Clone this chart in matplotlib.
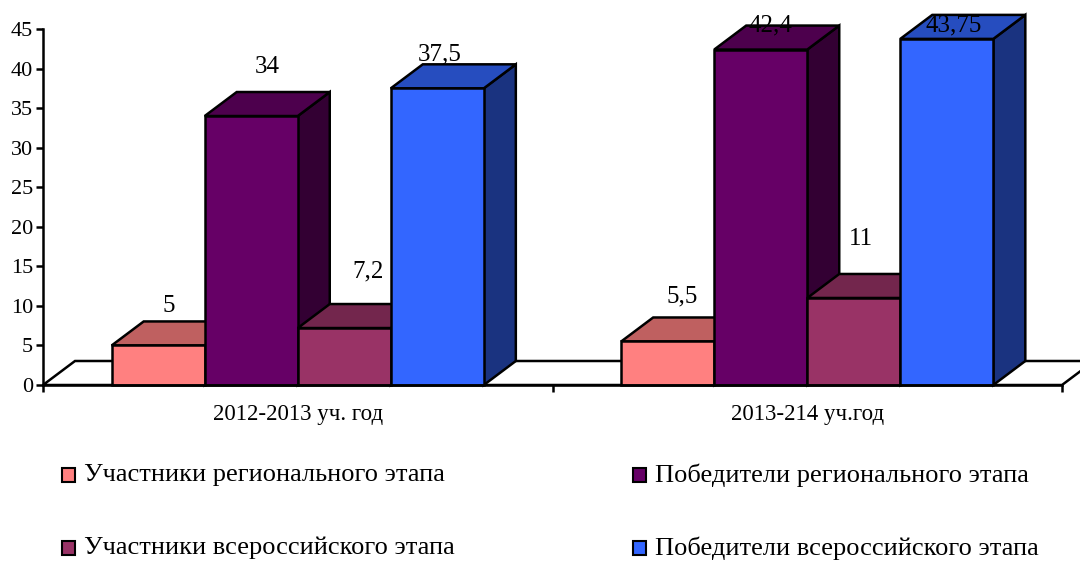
import numpy as np
import matplotlib
matplotlib.use("Agg")
import matplotlib.pyplot as plt
from matplotlib.patches import Polygon, Rectangle
from matplotlib.colors import to_rgb

# Данные
categories = ["2012-2013 уч. год", "2013-214 уч.год"]
series = [
    "Участники регионального этапа",
    "Победители регионального этапа",
    "Участники всероссийского этапа",
    "Победители всероссийского этапа",
]
values = [
    [5, 5.5],
    [34, 42.4],
    [7.2, 11],
    [37.5, 43.75],
]
value_labels = [
    ["5", "5,5"],
    ["34", "42,4"],
    ["7,2", "11"],
    ["37,5", "43,75"],
]
colors = ["#FF8080", "#660066", "#993366", "#3366FF"]

# Смещения подписей значений (как в исходной диаграмме)
label_dx = [[0.021, 0.028], [0.031, 0.020], [0.047, 0.014], [0.005, 0.014]]
label_dy = [[5.0, 5.75], [6.2, 3.0], [7.1, 7.5], [4.3, 1.65]]

plt.rcParams["font.family"] = ["Liberation Serif", "DejaVu Serif"]

W, H = 1080, 561
fig = plt.figure(figsize=(W / 100, H / 100), dpi=100)
ax = fig.add_axes([43 / W, 176 / H, 1019 / W, 356 / H])
ax.set_xlim(0, 2)
ax.set_ylim(0, 45)
ax.patch.set_visible(False)

# 3D-смещение (глубина)
ddx = 32 / 509.5
ddy = 24 / 7.91
bw = 0.1826
lw = 1.8


def shade(c, k):
    r, g, b = to_rgb(c)
    return (r * k, g * k, b * k)


# Пол
floor = Polygon([(0, 0), (2, 0), (2 + ddx, ddy), (ddx, ddy)], closed=True,
                facecolor="white", edgecolor="black", lw=lw, clip_on=False, zorder=1)
ax.add_patch(floor)

n = len(series)
for ci in range(len(categories)):
    for si in range(n):
        v = values[si][ci]
        x0 = ci + 0.5 + (si - n / 2) * bw
        x1 = x0 + bw
        c = colors[si]
        z = 2 + si
        side = Polygon([(x1, 0), (x1 + ddx, ddy), (x1 + ddx, v + ddy), (x1, v)],
                       facecolor=shade(c, 0.5), edgecolor="black", lw=lw,
                       joinstyle="miter", clip_on=False, zorder=z)
        top = Polygon([(x0, v), (x1, v), (x1 + ddx, v + ddy), (x0 + ddx, v + ddy)],
                      facecolor=shade(c, 0.75), edgecolor="black", lw=lw,
                      joinstyle="miter", clip_on=False, zorder=z)
        front = Rectangle((x0, 0), bw, v, facecolor=c, edgecolor="black", lw=lw,
                          joinstyle="miter", clip_on=False, zorder=z)
        ax.add_patch(side)
        ax.add_patch(top)
        ax.add_patch(front)
        ax.text(x0 + bw / 2 + label_dx[si][ci], v + label_dy[si][ci],
                value_labels[si][ci], ha="center", va="center",
                fontsize=18, zorder=20)

# Оси
for s in ["top", "right"]:
    ax.spines[s].set_visible(False)
ax.spines["left"].set_linewidth(lw)
ax.spines["bottom"].set_linewidth(lw)
ax.spines["left"].set_zorder(30)
ax.spines["bottom"].set_zorder(30)

ax.set_yticks(np.arange(0, 46, 5))
ax.tick_params(axis="y", length=5, width=lw, labelsize=16, pad=2)
ax.set_xticks([0, 1, 2], labels=["", "", ""])
ax.set_xticks([0.5, 1.5], labels=categories, minor=True)
ax.tick_params(axis="x", which="major", length=5, width=lw)
ax.tick_params(axis="x", which="minor", length=0, labelsize=16.5, pad=14)

# Легенда
leg_cols = [62, 633]
leg_rows = [475, 548]
order = [0, 2, 1, 3]
for k, si in enumerate(order):
    col = k // 2
    row = k % 2
    xp, yp = leg_cols[col], leg_rows[row]
    fig.add_artist(Rectangle((xp / W, (H - yp - 7) / H), 13 / W, 14 / H,
                             facecolor=colors[si], edgecolor="black", lw=1.5,
                             transform=fig.transFigure))
    fig.text((xp + 22) / W, (H - yp) / H, series[si], fontsize=19,
             ha="left", va="center")

fig.savefig("out.png", dpi=100)
